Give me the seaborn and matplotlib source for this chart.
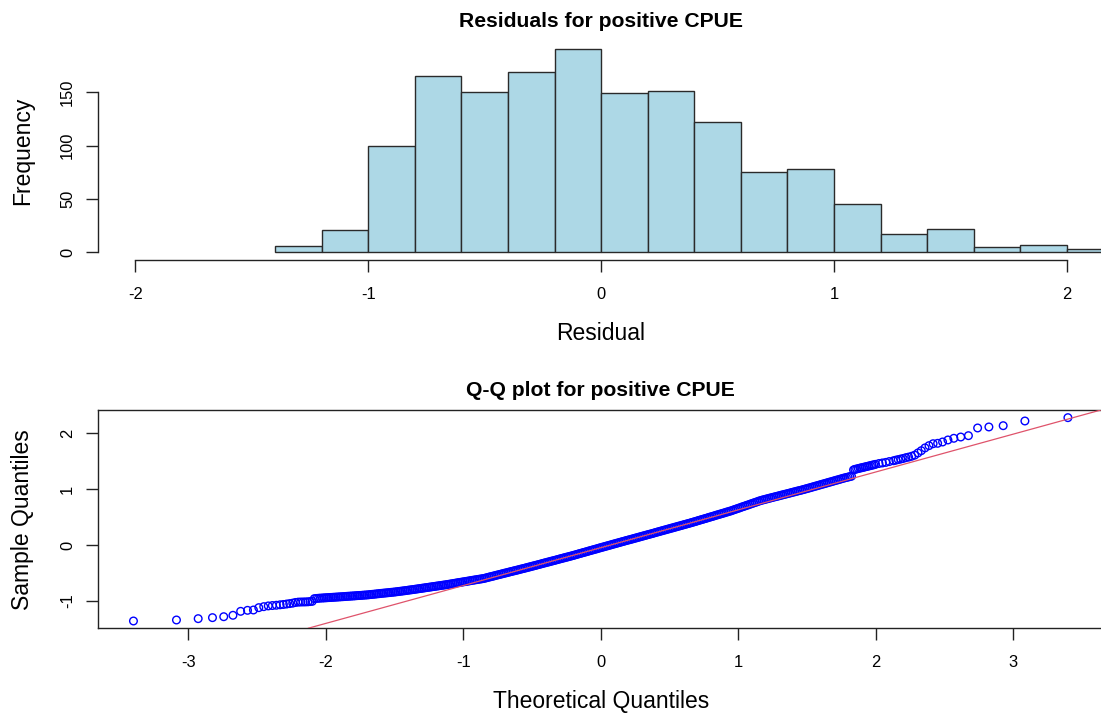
import numpy as np
import matplotlib
matplotlib.use("Agg")
import matplotlib.pyplot as plt
import seaborn as sns

# ---------------- data ----------------
# Histogram of residuals (bin edges and counts)
bin_edges = [-1.4, -1.2, -1.0, -0.8, -0.6, -0.4, -0.2, 0.0, 0.2, 0.4, 0.6,
             0.8, 1.0, 1.2, 1.4, 1.6, 1.8, 2.0, 2.2]
bin_counts = [6, 21, 100, 165, 150, 169, 191, 149, 151, 122, 75,
              78, 45, 17, 22, 5, 7, 3]

hist_xticks = [-2, -1, 0, 1, 2]
hist_yticks = [0, 50, 100, 150]

# Q-Q plot points (theoretical quantile, sample quantile)
qq_lower_t = [-3.400, -3.087, -2.929, -2.825, -2.743, -2.676, -2.620, -2.570,
              -2.527, -2.488, -2.452, -2.419, -2.389, -2.360, -2.333, -2.309,
              -2.285, -2.263, -2.241, -2.221, -2.201, -2.183, -2.165, -2.148,
              -2.131, -2.115, -2.099, -2.084, -2.069, -2.054, -2.040]
qq_lower_s = [-1.362, -1.344, -1.320, -1.302, -1.285, -1.260, -1.189, -1.171,
              -1.165, -1.123, -1.105, -1.092, -1.085, -1.080, -1.072, -1.066,
              -1.058, -1.050, -1.042, -1.030, -1.024, -1.022, -1.021, -1.020,
              -1.018, -1.014, -1.010, -0.962, -0.958, -0.955, -0.952]

qq_mid_t = [
    -2.0250, -2.0125, -2.0000, -1.9875, -1.9750, -1.9625, -1.9500, -1.9375,
    -1.9250, -1.9125, -1.9000, -1.8875, -1.8750, -1.8625, -1.8500, -1.8375,
    -1.8250, -1.8125, -1.8000, -1.7875, -1.7750, -1.7625, -1.7500, -1.7375,
    -1.7250, -1.7125, -1.7000, -1.6875, -1.6750, -1.6625, -1.6500, -1.6375,
    -1.6250, -1.6125, -1.6000, -1.5875, -1.5750, -1.5625, -1.5500, -1.5375,
    -1.5250, -1.5125, -1.5000, -1.4875, -1.4750, -1.4625, -1.4500, -1.4375,
    -1.4250, -1.4125, -1.4000, -1.3875, -1.3750, -1.3625, -1.3500, -1.3375,
    -1.3250, -1.3125, -1.3000, -1.2875, -1.2750, -1.2625, -1.2500, -1.2375,
    -1.2250, -1.2125, -1.2000, -1.1875, -1.1750, -1.1625, -1.1500, -1.1375,
    -1.1250, -1.1125, -1.1000, -1.0875, -1.0750, -1.0625, -1.0500, -1.0375,
    -1.0250, -1.0125, -1.0000, -0.9875, -0.9750, -0.9625, -0.9500, -0.9375,
    -0.9250, -0.9125, -0.9000, -0.8875, -0.8750, -0.8625, -0.8500, -0.8375,
    -0.8250, -0.8125, -0.8000, -0.7875, -0.7750, -0.7625, -0.7500, -0.7375,
    -0.7250, -0.7125, -0.7000, -0.6875, -0.6750, -0.6625, -0.6500, -0.6375,
    -0.6250, -0.6125, -0.6000, -0.5875, -0.5750, -0.5625, -0.5500, -0.5375,
    -0.5250, -0.5125, -0.5000, -0.4875, -0.4750, -0.4625, -0.4500, -0.4375,
    -0.4250, -0.4125, -0.4000, -0.3875, -0.3750, -0.3625, -0.3500, -0.3375,
    -0.3250, -0.3125, -0.3000, -0.2875, -0.2750, -0.2625, -0.2500, -0.2375,
    -0.2250, -0.2125, -0.2000, -0.1875, -0.1750, -0.1625, -0.1500, -0.1375,
    -0.1250, -0.1125, -0.1000, -0.0875, -0.0750, -0.0625, -0.0500, -0.0375,
    -0.0250, -0.0125, 0.0000, 0.0125, 0.0250, 0.0375, 0.0500, 0.0625,
    0.0750, 0.0875, 0.1000, 0.1125, 0.1250, 0.1375, 0.1500, 0.1625,
    0.1750, 0.1875, 0.2000, 0.2125, 0.2250, 0.2375, 0.2500, 0.2625,
    0.2750, 0.2875, 0.3000, 0.3125, 0.3250, 0.3375, 0.3500, 0.3625,
    0.3750, 0.3875, 0.4000, 0.4125, 0.4250, 0.4375, 0.4500, 0.4625,
    0.4750, 0.4875, 0.5000, 0.5125, 0.5250, 0.5375, 0.5500, 0.5625,
    0.5750, 0.5875, 0.6000, 0.6125, 0.6250, 0.6375, 0.6500, 0.6625,
    0.6750, 0.6875, 0.7000, 0.7125, 0.7250, 0.7375, 0.7500, 0.7625,
    0.7750, 0.7875, 0.8000, 0.8125, 0.8250, 0.8375, 0.8500, 0.8625,
    0.8750, 0.8875, 0.9000, 0.9125, 0.9250, 0.9375, 0.9500, 0.9625,
    0.9750, 0.9875, 1.0000, 1.0125, 1.0250, 1.0375, 1.0500, 1.0625,
    1.0750, 1.0875, 1.1000, 1.1125, 1.1250, 1.1375, 1.1500, 1.1625,
    1.1750, 1.1875, 1.2000, 1.2125, 1.2250, 1.2375, 1.2500, 1.2625,
    1.2750, 1.2875, 1.3000, 1.3125, 1.3250, 1.3375, 1.3500, 1.3625,
    1.3750, 1.3875, 1.4000, 1.4125, 1.4250, 1.4375, 1.4500, 1.4625,
    1.4750, 1.4875, 1.5000, 1.5125, 1.5250, 1.5375, 1.5500, 1.5625,
    1.5750, 1.5875, 1.6000, 1.6125, 1.6250, 1.6375, 1.6500, 1.6625,
    1.6750, 1.6875, 1.7000, 1.7125, 1.7250, 1.7375, 1.7500, 1.7625,
    1.7750, 1.7875, 1.8000, 1.8125, 1.8250]
qq_mid_s = [
    -0.950, -0.948, -0.946, -0.944, -0.942, -0.940, -0.938, -0.936,
    -0.934, -0.932, -0.930, -0.928, -0.926, -0.924, -0.921, -0.919,
    -0.917, -0.915, -0.913, -0.911, -0.908, -0.906, -0.904, -0.902,
    -0.899, -0.897, -0.895, -0.892, -0.888, -0.885, -0.882, -0.879,
    -0.875, -0.872, -0.868, -0.865, -0.862, -0.859, -0.856, -0.853,
    -0.849, -0.846, -0.843, -0.839, -0.835, -0.831, -0.827, -0.823,
    -0.819, -0.815, -0.810, -0.806, -0.802, -0.798, -0.793, -0.789,
    -0.784, -0.780, -0.775, -0.771, -0.766, -0.762, -0.757, -0.753,
    -0.748, -0.744, -0.739, -0.735, -0.730, -0.726, -0.721, -0.717,
    -0.712, -0.707, -0.702, -0.697, -0.692, -0.687, -0.681, -0.676,
    -0.671, -0.666, -0.661, -0.656, -0.651, -0.646, -0.640, -0.635,
    -0.630, -0.625, -0.620, -0.615, -0.610, -0.605, -0.600, -0.592,
    -0.584, -0.576, -0.568, -0.561, -0.553, -0.545, -0.537, -0.530,
    -0.522, -0.514, -0.506, -0.499, -0.491, -0.483, -0.475, -0.468,
    -0.460, -0.453, -0.445, -0.437, -0.429, -0.422, -0.414, -0.406,
    -0.398, -0.390, -0.382, -0.374, -0.366, -0.358, -0.350, -0.342,
    -0.333, -0.325, -0.317, -0.309, -0.301, -0.293, -0.285, -0.277,
    -0.269, -0.261, -0.252, -0.244, -0.236, -0.228, -0.220, -0.212,
    -0.204, -0.196, -0.187, -0.179, -0.170, -0.161, -0.152, -0.144,
    -0.135, -0.127, -0.118, -0.109, -0.100, -0.092, -0.083, -0.075,
    -0.066, -0.057, -0.048, -0.040, -0.031, -0.023, -0.014, -0.006,
    0.003, 0.012, 0.020, 0.029, 0.037, 0.046, 0.054, 0.063,
    0.071, 0.080, 0.088, 0.096, 0.104, 0.113, 0.121, 0.130,
    0.138, 0.147, 0.155, 0.164, 0.172, 0.181, 0.189, 0.197,
    0.205, 0.214, 0.223, 0.232, 0.240, 0.249, 0.257, 0.266,
    0.274, 0.283, 0.291, 0.300, 0.308, 0.317, 0.325, 0.334,
    0.342, 0.351, 0.359, 0.368, 0.376, 0.385, 0.393, 0.402,
    0.411, 0.420, 0.429, 0.439, 0.448, 0.457, 0.466, 0.475,
    0.484, 0.494, 0.503, 0.512, 0.521, 0.531, 0.540, 0.549,
    0.558, 0.567, 0.576, 0.586, 0.595, 0.604, 0.613, 0.624,
    0.635, 0.646, 0.656, 0.667, 0.678, 0.689, 0.699, 0.710,
    0.720, 0.731, 0.742, 0.753, 0.763, 0.774, 0.785, 0.795,
    0.804, 0.812, 0.820, 0.828, 0.836, 0.844, 0.852, 0.860,
    0.867, 0.875, 0.883, 0.891, 0.899, 0.907, 0.914, 0.922,
    0.930, 0.938, 0.946, 0.954, 0.962, 0.970, 0.977, 0.985,
    0.993, 1.002, 1.010, 1.019, 1.027, 1.036, 1.045, 1.054,
    1.062, 1.071, 1.080, 1.089, 1.097, 1.106, 1.115, 1.124,
    1.132, 1.141, 1.150, 1.159, 1.167, 1.176, 1.185, 1.194,
    1.202, 1.210, 1.217, 1.225, 1.232]

qq_upper_t = [1.840, 1.850, 1.8625, 1.875, 1.8875, 1.900, 1.9125, 1.925,
              1.9375, 1.950, 1.9625, 1.975, 1.9875, 2.000, 2.025, 2.050,
              2.075, 2.100, 2.131, 2.148, 2.165, 2.183, 2.201, 2.221, 2.241,
              2.263, 2.285, 2.309, 2.333, 2.360, 2.389, 2.419, 2.452, 2.488,
              2.527, 2.570, 2.620, 2.676, 2.743, 2.825, 2.929, 3.087, 3.400]
qq_upper_s = [1.345, 1.355, 1.362, 1.370, 1.378, 1.385, 1.392, 1.400,
              1.407, 1.415, 1.422, 1.430, 1.437, 1.445, 1.460, 1.470,
              1.480, 1.495, 1.510, 1.520, 1.530, 1.540, 1.550, 1.565, 1.575,
              1.590, 1.610, 1.650, 1.690, 1.740, 1.780, 1.815, 1.822, 1.846,
              1.882, 1.912, 1.935, 1.959, 2.097, 2.115, 2.138, 2.222, 2.282]

qq_line_intercept = -0.049
qq_line_slope = 0.678

qq_xticks = [-3, -2, -1, 0, 1, 2, 3]
qq_yticks = [-1, 0, 1, 2]

# ---------------- style ----------------
sns.set_theme(style="ticks")
plt.rcParams["font.family"] = ["Liberation Sans", "DejaVu Sans"]
plt.rcParams["axes.linewidth"] = 1.0
plt.rcParams["axes.edgecolor"] = "#222222"
plt.rcParams["xtick.color"] = "#222222"
plt.rcParams["ytick.color"] = "#222222"
plt.rcParams["xtick.labelcolor"] = "black"
plt.rcParams["ytick.labelcolor"] = "black"
plt.rcParams["text.color"] = "black"
plt.rcParams["axes.labelcolor"] = "black"
plt.rcParams["axes.titlecolor"] = "black"

W, H = 1101, 717
fig = plt.figure(figsize=(W / 100, H / 100), dpi=100)
fig.patch.set_facecolor("white")


def frac(l, r, t, b):
    return [l / W, 1 - b / H, (r - l) / W, (b - t) / H]


tick_fs = 11.9
lab_fs = 16.5
title_fs = 15.2

# ---------------- histogram ----------------
ax1 = fig.add_axes(frac(98, 1104.2, 40.5, 260.4))
bin_mids = [(a + b) / 2 for a, b in zip(bin_edges[:-1], bin_edges[1:])]
sns.histplot(x=bin_mids, weights=bin_counts, bins=bin_edges, ax=ax1,
             color="#ADD8E6", edgecolor="#2a2a2a", linewidth=1.0, alpha=1.0)
ax1.set_xlim(-2.16, 2.16)
ax1.set_ylim(-7.64, 198.64)
ax1.set_xticks(hist_xticks)
ax1.set_xticklabels([str(v) for v in hist_xticks])
ax1.set_yticks(hist_yticks)
ax1.set_yticklabels([str(v) for v in hist_yticks], rotation=90, va="center")
for sp in ["top", "right"]:
    ax1.spines[sp].set_visible(False)
ax1.spines["left"].set_bounds(0, 150)
ax1.spines["bottom"].set_bounds(-2, 2)
ax1.tick_params(axis="x", length=8.4, width=1.0, pad=11, labelsize=tick_fs)
ax1.tick_params(axis="y", length=8.4, width=1.0, pad=8, labelsize=tick_fs)
ax1.set_xlabel("Residual", fontsize=lab_fs)
ax1.set_ylabel("Frequency", fontsize=lab_fs)
ax1.xaxis.set_label_coords(0.5, -0.333)
ax1.xaxis.label.set_va("center")
ax1.yaxis.set_label_coords(-0.0748, 0.5)
ax1.yaxis.label.set_va("center")
ax1.set_title("Residuals for positive CPUE", fontsize=title_fs,
              fontweight="bold", y=1.0855, va="center", pad=0)
ax1.set_facecolor("white")

# ---------------- Q-Q plot ----------------
ax2 = fig.add_axes(frac(98, 1103.5, 410, 628.3))
qq_t = qq_lower_t + qq_mid_t + qq_upper_t
qq_s = qq_lower_s + qq_mid_s + qq_upper_s
sns.scatterplot(x=qq_t, y=qq_s, ax=ax2, marker="o", s=30, linewidth=1.0,
                color="#0000FF")
coll = ax2.collections[-1]
coll.set_facecolor("none")
coll.set_edgecolor("#0000FF")
coll.set_linewidth(1.0)
ax2.axline((0, qq_line_intercept), slope=qq_line_slope, color="#DF536B",
           linewidth=0.9, zorder=3)
ax2.set_xlim(-3.658, 3.659)
ax2.set_ylim(-1.493, 2.419)
ax2.set_xticks(qq_xticks)
ax2.set_xticklabels([str(v) for v in qq_xticks])
ax2.set_yticks(qq_yticks)
ax2.set_yticklabels([str(v) for v in qq_yticks], rotation=90, va="center")
for sp in ax2.spines.values():
    sp.set_visible(True)
ax2.tick_params(axis="x", length=8.4, width=1.0, pad=11, labelsize=tick_fs)
ax2.tick_params(axis="y", length=8.4, width=1.0, pad=8, labelsize=tick_fs)
ax2.set_xlabel("Theoretical Quantiles", fontsize=lab_fs)
ax2.set_ylabel("Sample Quantiles", fontsize=lab_fs)
ax2.xaxis.set_label_coords(0.5, -0.336)
ax2.xaxis.label.set_va("center")
ax2.yaxis.set_label_coords(-0.0749, 0.5)
ax2.yaxis.label.set_va("center")
ax2.set_title("Q-Q plot for positive CPUE", fontsize=title_fs,
              fontweight="bold", y=1.0916, va="center", pad=0)
ax2.set_facecolor("white")

fig.savefig("out.png", dpi=100, facecolor="white")
